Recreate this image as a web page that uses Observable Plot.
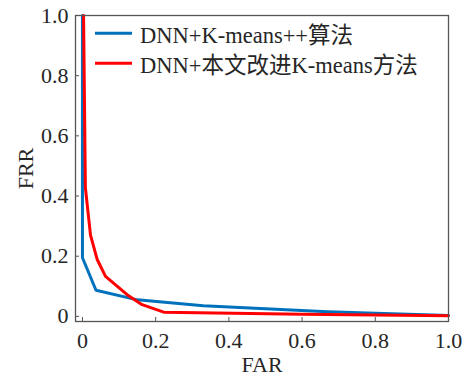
<!DOCTYPE html>
<html><head><meta charset="utf-8">
<script src="https://cdn.jsdelivr.net/npm/d3@7"></script>
<script src="https://cdn.jsdelivr.net/npm/@observablehq/plot@0.6"></script>
<style>
body{margin:0;background:#fff;}
#wrap{position:relative;width:468px;height:379px;}
#legend{position:absolute;left:0;top:0;width:468px;height:379px;pointer-events:none;}
</style></head>
<body><div id="wrap"></div>
<script>
const seriesNames = ["DNN+K-means++算法", "DNN+本文改进K-means方法"];
const seriesColors = ["#0072BD", "#FF0000"];
const blueFAR = [0, 0, 0.037, 0.15, 0.33, 0.67, 1.0];
const blueFRR = [1.0, 0.195, 0.087, 0.055, 0.035, 0.015, 0.003];
const redFAR = [0.003, 0.008, 0.022, 0.04, 0.063, 0.122, 0.163, 0.222, 0.6, 1.0];
const redFRR = [1.0, 0.428, 0.27, 0.19, 0.133, 0.072, 0.039, 0.014, 0.007, 0.002];
const xTicks = [0, 0.2, 0.4, 0.6, 0.8, 1.0];
const yTicks = [0, 0.2, 0.4, 0.6, 0.8, 1.0];
const xDomain = [-0.019, 1.0];
const yDomain = [-0.017, 1.0];

const blue = blueFAR.map((x, i) => ({x, y: blueFRR[i]}));
const red = redFAR.map((x, i) => ({x, y: redFRR[i]}));
const fmt = d => d === 0 ? "0" : d.toFixed(1);
const font = "Liberation Serif, Times New Roman, DejaVu Serif, Noto Sans CJK SC, serif";
const axisColor = "#555";
const textColor = "#262626";

const chart = Plot.plot({
  width: 468, height: 379,
  marginLeft: 75, marginRight: 20, marginTop: 15, marginBottom: 58,
  style: {fontFamily: font, fontSize: "22px", color: textColor, background: "#fff"},
  x: {domain: xDomain},
  y: {domain: yDomain},
  marks: [
    Plot.axisX(xTicks, {tickSize: 0, tickPadding: 11, tickFormat: fmt, fontSize: 22, fill: textColor,
      label: "FAR", labelAnchor: "center", labelOffset: 50, labelArrow: false}),
    Plot.axisY(yTicks, {tickSize: 0, tickPadding: 7, tickFormat: fmt, fontSize: 22, fill: textColor,
      label: "FRR", labelAnchor: "center", labelOffset: 58, labelArrow: false}),
    Plot.ruleX(xTicks, {x: d => d, y1: yDomain[0], y2: yDomain[0], insetBottom: 4, stroke: axisColor, strokeWidth: 1}),
    Plot.ruleY(yTicks, {y: d => d, x1: xDomain[0], x2: xDomain[0], insetLeft: 4, stroke: axisColor, strokeWidth: 1}),
    Plot.line(blue, {x: "x", y: "y", stroke: seriesColors[0], strokeWidth: 3}),
    Plot.line(red, {x: "x", y: "y", stroke: seriesColors[1], strokeWidth: 3}),
    Plot.frame({stroke: axisColor, strokeWidth: 1.3})
  ]
});
chart.style.fontFamily = font;
const wrap = document.getElementById("wrap");
wrap.appendChild(chart);

// legend overlay
const ns = "http://www.w3.org/2000/svg";
const lg = document.createElementNS(ns, "svg");
lg.setAttribute("id", "legend");
lg.setAttribute("width", 468); lg.setAttribute("height", 379);
seriesNames.forEach((name, i) => {
  const cy = 33.3 + i * 30;
  const l = document.createElementNS(ns, "line");
  l.setAttribute("x1", 95); l.setAttribute("x2", 132);
  l.setAttribute("y1", cy); l.setAttribute("y2", cy);
  l.setAttribute("stroke", seriesColors[i]); l.setAttribute("stroke-width", 3);
  lg.appendChild(l);
  const t = document.createElementNS(ns, "text");
  t.setAttribute("x", 140); t.setAttribute("y", cy + 10);
  t.style.fontFamily = font; t.style.fontSize = "22.5px";
  t.setAttribute("fill", textColor);
  t.textContent = name;
  lg.appendChild(t);
});
wrap.appendChild(lg);
</script></body></html>
